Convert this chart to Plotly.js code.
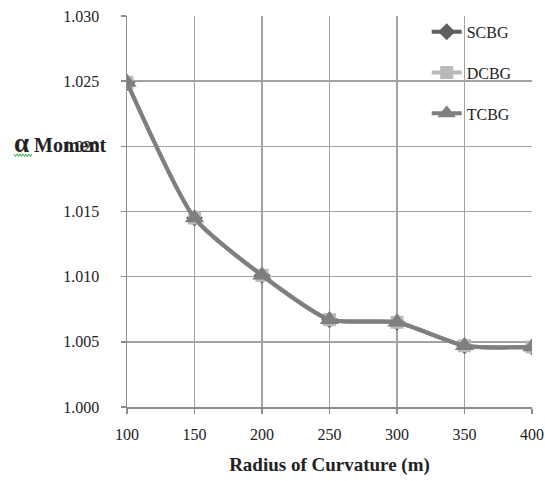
<!DOCTYPE html>
<html>
<head>
<meta charset="utf-8">
<script src="https://cdn.plot.ly/plotly-3.0.1.min.js"></script>
<style>
  html, body { margin: 0; padding: 0; background: #fff; }
  #chart { width: 545px; height: 481px; }
</style>
</head>
<body>
<div id="chart"></div>
<script>
// Radius of curvature (m)
const radius = [100, 150, 200, 250, 300, 350, 400];

// Moment distribution factor for each girder type
const scbg = [1.0249, 1.0145, 1.0101, 1.0067, 1.0065, 1.0047, 1.0046];
const dcbg = [1.0249, 1.0145, 1.0101, 1.0067, 1.0065, 1.0047, 1.0046];
const tcbg = [1.0249, 1.0145, 1.0101, 1.0067, 1.0065, 1.0047, 1.0046];

const seriesNames = ['SCBG', 'DCBG', 'TCBG'];
const xTicks = [100, 150, 200, 250, 300, 350, 400];
const yTicks = [1.000, 1.005, 1.010, 1.015, 1.020, 1.025, 1.030];

const serif = 'Liberation Serif, Times New Roman, serif';

function series(name, y, color, symbol, size) {
  return {
    x: radius, y: y, name: name, type: 'scatter', mode: 'lines+markers',
    legendgroup: name,
    line: { color: color, width: 4, shape: 'spline', smoothing: 0.6 },
    marker: { color: color, symbol: symbol, size: size }
  };
}

const data = [
  series(seriesNames[0], scbg, '#5f5f5f', 'diamond', 13),
  series(seriesNames[1], dcbg, '#b9b9b9', 'square', 13),
  series(seriesNames[2], tcbg, '#7f7f7f', 'triangle-up', 17)
];

// spell-check squiggle under the alpha symbol (paper coords)
const W = 405, H = 391, L = 127, T = 16;
function px(x) { return (x - L) / W; }
function py(y) { return (T + H - y) / H; }
let wave = 'M' + px(14) + ',' + py(154);
for (let i = 0, x = 14; x < 32; i++) {
  x += 1.5;
  wave += ' L' + px(x) + ',' + py(i % 2 === 0 ? 156.5 : 154);
}

const axisCommon = {
  showline: true, linecolor: '#8c8c8c', linewidth: 1.5,
  showgrid: true, gridcolor: '#a3a3a3', gridwidth: 1.5,
  ticks: 'outside', ticklen: 5, tickwidth: 1.5, tickcolor: '#8c8c8c',
  zeroline: false, mirror: false,
  tickfont: { family: serif, size: 16, color: '#222' }
};

const layout = {
  width: 545, height: 481,
  margin: { l: L, r: 13, t: T, b: 74 },
  paper_bgcolor: '#fff', plot_bgcolor: '#fff',
  showlegend: true,
  xaxis: Object.assign({}, axisCommon, {
    range: [100, 400], tickvals: xTicks, ticktext: xTicks.map(String),
    ticklabelstandoff: 7,
    title: { text: '<b>Radius of Curvature (m)</b>', font: { family: serif, size: 19, color: '#222' }, standoff: 16 }
  }),
  yaxis: Object.assign({}, axisCommon, {
    range: [1.000, 1.030], tickvals: yTicks, ticktext: yTicks.map(v => v.toFixed(3)),
    ticklabelstandoff: 18
  }),
  legend: {
    x: 0.74, y: 1.003, xanchor: 'left', yanchor: 'top',
    bgcolor: 'rgba(0,0,0,0)', borderwidth: 0,
    font: { family: serif, size: 16, color: '#222' },
    traceorder: 'grouped', tracegroupgap: 17
  },
  annotations: [{
    xref: 'paper', yref: 'paper', x: px(12), y: py(143), xanchor: 'left', yanchor: 'middle',
    showarrow: false,
    text: '<b><span style="font-size:27px">α</span> Moment</b>',
    font: { family: serif, size: 20, color: '#222' }
  }],
  shapes: [{
    type: 'path', xref: 'paper', yref: 'paper', path: wave,
    line: { color: '#3cb043', width: 1 }
  }]
};

Plotly.newPlot('chart', data, layout, { displayModeBar: false, staticPlot: true });
</script>
</body>
</html>
